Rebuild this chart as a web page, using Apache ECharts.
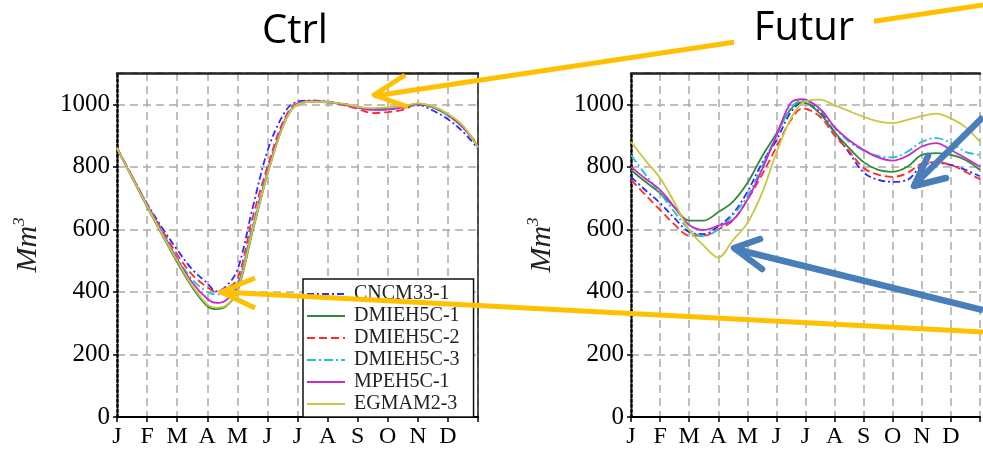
<!DOCTYPE html>
<html>
<head>
<meta charset="utf-8">
<script src="https://cdn.jsdelivr.net/npm/echarts@6/dist/echarts.min.js"></script>
<style>
  html, body { margin: 0; padding: 0; background: #fff; }
  #main { width: 983px; height: 449px; }
</style>
</head>
<body>
<div id="main"></div>
<script>
// month letters on the x axis
var months = ['J', 'F', 'M', 'A', 'M', 'J', 'J', 'A', 'S', 'O', 'N', 'D'];
var names = ['CNCM33-1', 'DMIEH5C-1', 'DMIEH5C-2', 'DMIEH5C-3', 'MPEH5C-1', 'EGMAM2-3'];
var yTicks = [0, 200, 400, 600, 800, 1000];

// Ctrl panel, x in months from 1 Jan
var ctrlX = [0, 0.5, 1, 1.5, 2, 2.5, 3, 3.3, 3.6, 4, 4.5, 5, 5.5, 5.9, 6.5, 7, 7.5, 8, 8.5, 9, 9.5, 10, 10.5, 11, 11.5, 12];
var ctrlCNCM = [860, 770, 682, 605, 535, 472, 428, 402, 415, 470, 665, 850, 962, 1005, 1012, 1008, 1002, 992, 985, 985, 988, 998, 980, 952, 912, 858];
var ctrlDMI1 = [858, 765, 672, 582, 495, 415, 355, 345, 352, 400, 590, 775, 925, 993, 1008, 1006, 1000, 990, 985, 988, 992, 1000, 990, 965, 928, 862];
var ctrlDMI2 = [862, 770, 680, 598, 520, 455, 415, 400, 410, 440, 635, 800, 940, 998, 1010, 1008, 998, 985, 972, 975, 982, 1000, 990, 965, 925, 872];
var ctrlDMI3 = [860, 768, 678, 592, 508, 440, 400, 392, 392, 425, 610, 785, 930, 995, 1008, 1006, 1000, 990, 982, 985, 990, 1000, 990, 965, 925, 865];
var ctrlMPE = [860, 768, 678, 590, 505, 430, 378, 365, 372, 415, 600, 780, 930, 995, 1010, 1008, 1000, 990, 982, 983, 990, 1002, 992, 968, 928, 865];
var ctrlEGM = [860, 766, 675, 585, 500, 420, 360, 350, 355, 405, 595, 775, 925, 993, 1008, 1007, 1002, 992, 988, 990, 994, 1003, 993, 970, 932, 862];

// Futur panel
var futX = [0, 0.5, 1, 1.5, 2, 2.5, 3, 3.5, 4, 4.5, 5, 5.5, 5.9, 6.5, 7, 7.5, 8, 8.5, 9, 9.5, 10, 10.5, 11, 11.5, 12];
var futCNCM = [768, 725, 684, 635, 592, 585, 610, 650, 720, 811, 885, 975, 1005, 975, 910, 845, 782, 758, 752, 758, 803, 812, 806, 790, 770];
var futDMI1 = [790, 752, 716, 670, 628, 628, 655, 688, 748, 832, 907, 985, 1007, 970, 910, 860, 815, 790, 784, 800, 838, 844, 838, 822, 790];
var futDMI2 = [758, 710, 662, 615, 580, 580, 600, 628, 694, 774, 863, 950, 987, 960, 900, 850, 796, 775, 768, 780, 810, 815, 806, 784, 760];
var futDMI3 = [838, 775, 716, 655, 600, 578, 600, 645, 705, 800, 900, 990, 1012, 985, 925, 880, 852, 835, 830, 848, 880, 892, 876, 848, 838];
var futMPE = [800, 762, 726, 670, 614, 598, 612, 630, 694, 790, 900, 1005, 1016, 985, 927, 885, 854, 830, 820, 835, 865, 876, 854, 828, 800];
var futEGM = [880, 820, 764, 685, 598, 548, 510, 565, 620, 715, 845, 955, 1005, 1015, 997, 978, 960, 945, 940, 950, 962, 970, 955, 927, 880];

var colors = ['#2b2bff', '#2e8b3a', '#ff2b2b', '#22c2c6', '#c62ad0', '#c8c840'];
var dashes = [[7, 3, 2, 3], 'solid', [8, 4], [9, 3, 2, 3], 'solid', 'solid'];

var chart = echarts.init(document.getElementById('main'));

function pairs(xs, ys) {
  return xs.map(function (x, i) { return [x, ys[i]]; });
}

var serif = 'Liberation Serif';

function xAxisFor(g) {
  return {
    type: 'value', gridIndex: g, min: 0, max: 12, interval: 1,
    axisLine: { lineStyle: { color: '#000', width: 2 } },
    axisTick: { length: 5, lineStyle: { color: '#000', width: 1.5 } },
    axisLabel: {
      margin: 8, color: '#000', fontFamily: serif, fontSize: 24,
      formatter: function (v) { return v < 12 ? months[v] : ''; }
    },
    splitLine: { show: true, lineStyle: { color: '#aaa', width: 1.5, type: [8, 5] } }
  };
}
function yAxisFor(g) {
  return {
    type: 'value', gridIndex: g, min: 0, max: 1100, interval: 200,
    name: '{m|Mm}{s|3}', nameLocation: 'middle', nameGap: 72,
    nameTextStyle: {
      rich: {
        m: { fontFamily: serif, fontStyle: 'italic', fontSize: 30, lineHeight: 34, color: '#222' },
        s: { fontFamily: serif, fontStyle: 'italic', fontSize: 17, lineHeight: 34, verticalAlign: 'top', color: '#222' }
      }
    },
    axisLine: { show: true, lineStyle: { color: '#000', width: 2.5, type: 'dotted' } },
    axisTick: { length: 4, lineStyle: { color: '#000', width: 1.5 } },
    axisLabel: {
      margin: 7, color: '#000', fontFamily: serif, fontSize: 25, showMaxLabel: false,
      formatter: function (v) { return yTicks.indexOf(v) >= 0 ? String(v) : ''; }
    },
    splitLine: { show: true, lineStyle: { color: '#aaa', width: 1.5, type: [8, 5] } }
  };
}
// plain lines for the top / right frame of a panel
function frameAxis(g, pos) {
  return {
    type: 'value', gridIndex: g, position: pos,
    axisLine: { show: true, onZero: false, lineStyle: { color: '#222', width: pos == 'top' ? 2.5 : 1.5 } },
    axisTick: { show: false }, axisLabel: { show: false }, splitLine: { show: false }
  };
}

var series = [];
var ctrlSets = [ctrlCNCM, ctrlDMI1, ctrlDMI2, ctrlDMI3, ctrlMPE, ctrlEGM];
var futSets = [futCNCM, futDMI1, futDMI2, futDMI3, futMPE, futEGM];
[ctrlSets, futSets].forEach(function (sets, g) {
  var xs = g == 0 ? ctrlX : futX;
  sets.forEach(function (ys, i) {
    series.push({
      name: names[i], type: 'line', xAxisIndex: g, yAxisIndex: g,
      data: pairs(xs, ys), smooth: 0.35, symbol: 'none',
      lineStyle: { color: colors[i], width: 1.8, type: dashes[i] },
      itemStyle: { color: colors[i] }
    });
  });
});

var yellow = '#ffc000';
var blue = '#4a7ebb';

var option = {
  animation: false,
  grid: [
    { left: 117, top: 73, width: 361, height: 345 },
    { left: 631, top: 73, width: 359, height: 345 }
  ],
  xAxis: [xAxisFor(0), xAxisFor(1), frameAxis(0, 'top'), frameAxis(1, 'top')],
  yAxis: [yAxisFor(0), yAxisFor(1), frameAxis(0, 'right')],
  legend: {
    data: names, orient: 'vertical', left: 303, top: 279,
    padding: [5, 14, 3, 3], itemGap: 2, itemWidth: 38, itemHeight: 14,
    itemStyle: { opacity: 0, borderWidth: 0 },
    backgroundColor: '#fff', borderColor: '#111', borderWidth: 1.5,
    textStyle: { fontFamily: serif, fontSize: 20, lineHeight: 20, color: '#222', padding: [0, 0, 0, 4] }
  },
  series: series,
  graphic: [
    // Ctrl title
    { type: 'text', z: 100, x: 295, y: 32, style: { text: 'Ctrl', font: '40px "Open Sans"', fill: '#000', textAlign: 'center', textVerticalAlign: 'middle' } },
    // yellow arrow to the plateau
    { type: 'polyline', z: 100, shape: { points: [[983, 5], [374, 96]] }, style: { stroke: yellow, lineWidth: 5, fill: null } },
    { type: 'polyline', z: 100, shape: { points: [[405, 75], [374, 95], [408, 107]] }, style: { stroke: yellow, lineWidth: 5, fill: null, lineJoin: 'round' } },
    { type: 'rect', z: 100, shape: { x: 734, y: 6, width: 140, height: 46 }, style: { fill: '#fff' } },
    { type: 'text', z: 101, x: 804, y: 29, style: { text: 'Futur', font: '40px "Open Sans"', fill: '#000', textAlign: 'center', textVerticalAlign: 'middle' } },
    // yellow arrow to the minimum
    { type: 'polyline', z: 100, shape: { points: [[983, 332], [221, 292]] }, style: { stroke: yellow, lineWidth: 5, fill: null } },
    { type: 'polyline', z: 100, shape: { points: [[255, 278], [221, 292], [255, 308]] }, style: { stroke: yellow, lineWidth: 5, fill: null, lineJoin: 'round' } },
    // blue arrows
    { type: 'polyline', z: 100, shape: { points: [[983, 117], [914, 185]] }, style: { stroke: blue, lineWidth: 6.5, fill: null } },
    { type: 'polyline', z: 100, shape: { points: [[928, 156], [914, 186], [946, 178]] }, style: { stroke: blue, lineWidth: 6.5, fill: null, lineJoin: 'round', lineCap: 'round' } },
    { type: 'polyline', z: 100, shape: { points: [[983, 310], [735, 249]] }, style: { stroke: blue, lineWidth: 6.5, fill: null } },
    { type: 'polyline', z: 100, shape: { points: [[760, 239], [734, 248], [762, 269]] }, style: { stroke: blue, lineWidth: 6.5, fill: null, lineJoin: 'round', lineCap: 'round' } }
  ]
};

chart.setOption(option);
</script>
</body>
</html>
